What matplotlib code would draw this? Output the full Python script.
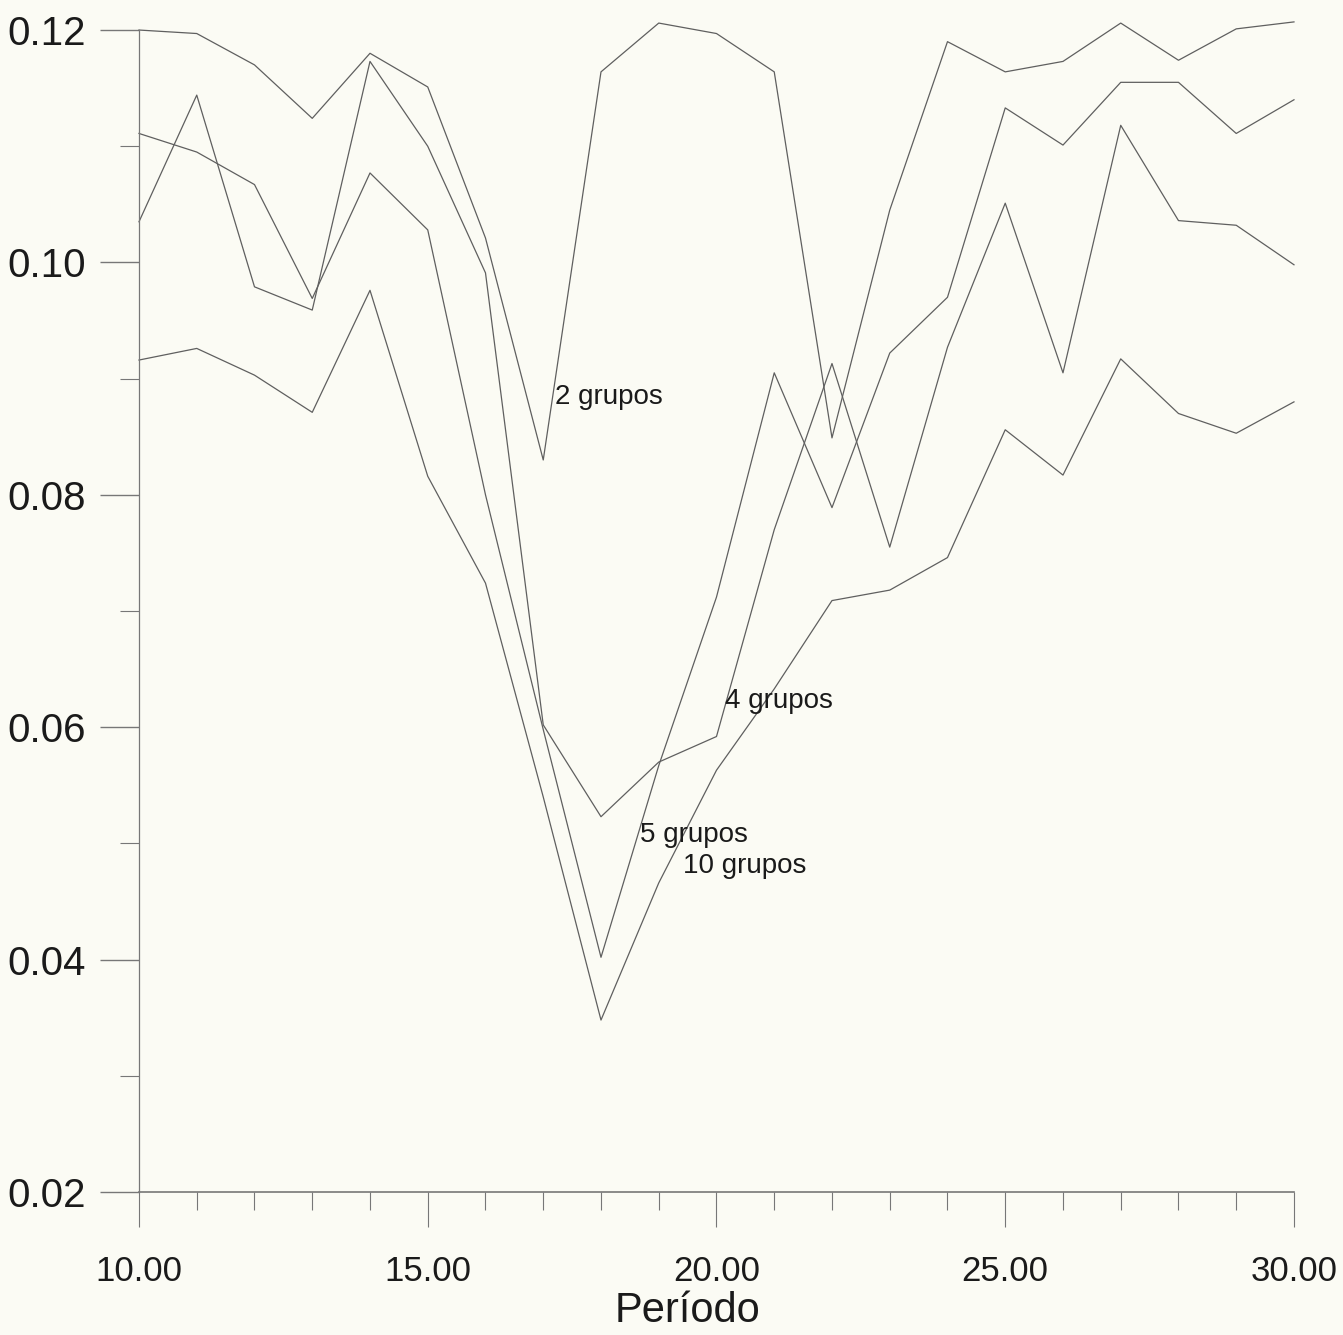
import numpy as np
import matplotlib
matplotlib.use('Agg')
import matplotlib.pyplot as plt
from matplotlib.ticker import MultipleLocator, FormatStrFormatter

periodo = list(range(10, 31))

# 2 grupos
g2 = [0.1200, 0.1197, 0.1170, 0.1124, 0.1180, 0.1151, 0.1021, 0.0830, 0.1164, 0.1206, 0.1197,
      0.1164, 0.0849, 0.1045, 0.1190, 0.1164, 0.1173, 0.1206, 0.1174, 0.1201, 0.1207]
# 5 grupos
g5 = [0.1111, 0.1095, 0.1067, 0.0969, 0.1077, 0.1028, 0.0800, 0.0598, 0.0402, 0.0567, 0.0712,
      0.0905, 0.0789, 0.0922, 0.0970, 0.1133, 0.1101, 0.1155, 0.1155, 0.1111, 0.1140]
# 4 grupos
g4 = [0.1035, 0.1144, 0.0979, 0.0959, 0.1173, 0.1100, 0.0991, 0.0602, 0.0523, 0.0570, 0.0592,
      0.0770, 0.0913, 0.0755, 0.0927, 0.1051, 0.0905, 0.1118, 0.1036, 0.1032, 0.0998]
# 10 grupos
g10 = [0.0916, 0.0926, 0.0903, 0.0871, 0.0976, 0.0816, 0.0724, 0.0540, 0.0348, 0.0466, 0.0563,
       0.0633, 0.0709, 0.0718, 0.0746, 0.0856, 0.0817, 0.0917, 0.0870, 0.0853, 0.0880]

labels = ['2 grupos', '4 grupos', '5 grupos', '10 grupos']
label_pos = [(17.2, 0.0884), (20.15, 0.0623), (18.68, 0.0507), (19.42, 0.0481)]

plt.rcParams['font.family'] = ['Liberation Sans', 'DejaVu Sans']

bg = '#fbfbf4'
lc = '#5f5f5f'
fig = plt.figure(figsize=(13.43, 13.35), dpi=100, facecolor=bg)
ax = fig.add_axes([0.1035, 0.1071, 0.86, 0.8704])
ax.set_facecolor(bg)

for s in [g2, g5, g4, g10]:
    ax.plot(periodo, s, color=lc, linewidth=0.9, clip_on=False)

for t, (x, y) in zip(labels, label_pos):
    ax.text(x, y, t, fontsize=20, color='#1a1a1a', va='center', ha='left')

ax.set_xlim(10, 30)
ax.set_ylim(0.02, 0.12)
ax.spines['top'].set_visible(False)
ax.spines['right'].set_visible(False)
ax.spines['left'].set_color('#777777')
ax.spines['bottom'].set_color('#777777')
ax.spines['left'].set_linewidth(0.9)
ax.spines['bottom'].set_linewidth(1.2)

ax.xaxis.set_major_locator(MultipleLocator(5))
ax.xaxis.set_minor_locator(MultipleLocator(1))
ax.yaxis.set_major_locator(MultipleLocator(0.02))
ax.yaxis.set_minor_locator(MultipleLocator(0.01))
ax.xaxis.set_major_formatter(FormatStrFormatter('%.2f'))
ax.yaxis.set_major_formatter(FormatStrFormatter('%.2f'))

ax.tick_params(axis='x', which='major', direction='out', length=25, width=0.8, color='#777777',
               labelsize=25, pad=20, labelcolor='#1a1a1a')
ax.tick_params(axis='x', which='minor', direction='out', length=13, width=0.8, color='#777777')
ax.tick_params(axis='y', which='major', direction='out', length=28, width=1.0, color='#777777',
               labelsize=29, pad=10, labelcolor='#1a1a1a')
ax.tick_params(axis='y', which='minor', direction='out', length=14, width=0.8, color='#777777')

ax.set_xlabel('Período', fontsize=30, color='#1a1a1a')
ax.xaxis.set_label_coords(0.475, -0.085)

fig.savefig('out.png', dpi=100, facecolor=bg)
